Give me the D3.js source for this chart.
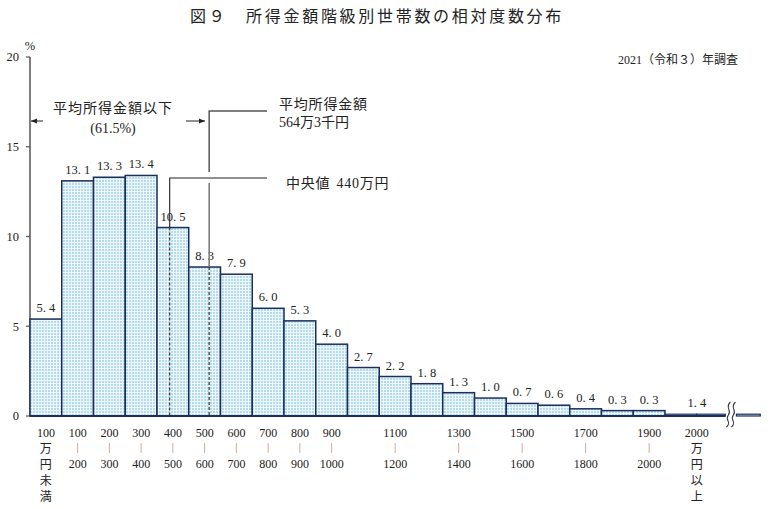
<!DOCTYPE html>
<html><head><meta charset="utf-8">
<script src="https://cdn.jsdelivr.net/npm/d3@7"></script>
<style>
body{margin:0;background:#fff;}
svg{display:block;}
text{font-family:"Liberation Serif","Noto Sans CJK JP",serif;fill:#222;}
</style></head>
<body>
<svg id="c" width="771" height="509"></svg>
<script>
// ---- data ----
const binLower = [0,100,200,300,400,500,600,700,800,900,1000,1100,1200,1300,1400,1500,1600,1700,1800,1900];
const values   = [5.4,13.1,13.3,13.4,10.5,8.3,7.9,6.0,5.3,4.0,2.7,2.2,1.8,1.3,1.0,0.7,0.6,0.4,0.3,0.3];
const labelTop    = ["100","100","200","300","400","500","600","700","800","900","","1100","","1300","","1500","","1700","","1900"];
const labelBottom = ["","200","300","400","500","600","700","800","900","1000","","1200","","1400","","1600","","1800","","2000"];
const overLabel = "2000";
const overUnits = ["万","円","以","上"];
const underUnits = ["万","円","未","満"];
const overValue = 1.4;          // 2000万円以上
const overBins = [[2000,2100],[2100,2190]];
const overTail = [2225,2300];
const overHeight = 0.1;         // drawn height of the flattened 2000+ bars
const yTicks = [0,5,10,15,20];
const meanIncome = 564.3, medianIncome = 440, belowMeanPct = "61.5";

// ---- scales ----
const svg = d3.select("#c");
const x = d3.scaleLinear().domain([0,2000]).range([30,665]);
const y = d3.scaleLinear().domain([0,20]).range([416,57]);
const bw = x(100)-x(0);
const fmt = v => d3.format(".1f")(v).replace(".", ". ");

// pattern
const defs = svg.append("defs");
const pat = defs.append("pattern").attr("id","dots").attr("width",3).attr("height",3).attr("patternUnits","userSpaceOnUse");
pat.append("rect").attr("width",3).attr("height",3).attr("fill","#eef8fc");
pat.append("rect").attr("width",2).attr("height",2).attr("fill","#b3dbec");

// title
svg.append("text").attr("x",190).attr("y",22).attr("font-size",16).attr("letter-spacing",2.7)
  .style("font-family","'Noto Sans CJK JP'").attr("font-weight",400)
  .text("図９　所得金額階級別世帯数の相対度数分布");
svg.append("text").attr("x",738).attr("y",64).attr("font-size",12).attr("text-anchor","end")
  .text("2021（令和３）年調査");

// y axis
svg.append("line").attr("x1",x(0)).attr("x2",x(0)).attr("y1",y(20)).attr("y2",y(0)).attr("stroke","#555").attr("stroke-width",1.5);
const yt = svg.append("g");
yTicks.forEach(t=>{
  yt.append("line").attr("x1",x(0)-4).attr("x2",x(0)).attr("y1",y(t)).attr("y2",y(t)).attr("stroke","#555").attr("stroke-width",1.2);
  yt.append("text").attr("x",19).attr("y",y(t)).attr("dy","0.35em").attr("text-anchor","end").attr("font-size",12.5).text(t);
});
svg.append("text").attr("x",30).attr("y",46).attr("dy","0.35em").attr("text-anchor","middle").attr("font-size",12.5).text("%");

// bars
const bars = svg.append("g");
bars.selectAll("rect.b").data(values).join("rect").attr("class","b")
  .attr("x",(d,i)=>x(binLower[i])).attr("width",bw)
  .attr("y",d=>y(d)).attr("height",d=>y(0)-y(d))
  .attr("fill","url(#dots)").attr("stroke","#1b2f5e").attr("stroke-width",1.5);
bars.selectAll("rect.o").data(overBins).join("rect").attr("class","o")
  .attr("x",d=>x(d[0])).attr("width",d=>x(d[1])-x(d[0]))
  .attr("y",y(overHeight)).attr("height",y(0)-y(overHeight))
  .attr("fill","#d6ecf6").attr("stroke","#1b2f5e").attr("stroke-width",1.2);
bars.append("rect").attr("x",x(overTail[0])).attr("width",x(overTail[1])-x(overTail[0]))
  .attr("y",y(overHeight)).attr("height",y(0)-y(overHeight))
  .attr("fill","#d6ecf6").attr("stroke","#1b2f5e").attr("stroke-width",1.2);
// baseline
svg.append("line").attr("x1",x(0)).attr("x2",x(overBins[1][1])).attr("y1",y(0)).attr("y2",y(0)).attr("stroke","#1b2f5e").attr("stroke-width",2);

// break symbol
const bx = (x(overBins[1][1])+x(overTail[0]))/2;
[-2.5,2.5].forEach(o=>{
  const cx = bx+o;
  svg.append("path").attr("d",`M${cx+2},${402} C${cx-4},${408} ${cx+4},${410} ${cx},${415} C${cx-4},${420} ${cx+4},${422} ${cx-2},${427}`)
    .attr("fill","none").attr("stroke","#333").attr("stroke-width",1.1);
});

// value labels
svg.append("g").selectAll("text").data(values).join("text")
  .attr("x",(d,i)=>x(binLower[i])+bw/2).attr("y",d=>y(d)-7)
  .attr("text-anchor","middle").attr("font-size",12.5).text(d=>fmt(d));
svg.append("text").attr("x",x(overBins[0][1])).attr("y",y(overHeight)-7).attr("text-anchor","middle").attr("font-size",12.5).text(fmt(overValue));

// x labels
const xl = svg.append("g").attr("font-size",12);
binLower.forEach((b,i)=>{
  const cx = x(b)+bw/2;
  if(!labelTop[i]) return;
  xl.append("text").attr("x",cx).attr("y",433).attr("dy","0.35em").attr("text-anchor","middle").text(labelTop[i]);
  if(labelBottom[i]){
    xl.append("line").attr("x1",cx).attr("x2",cx).attr("y1",443).attr("y2",453).attr("stroke","#d2aaa2").attr("stroke-width",1);
    xl.append("text").attr("x",cx).attr("y",464).attr("dy","0.35em").attr("text-anchor","middle").text(labelBottom[i]);
  } else {
    underUnits.forEach((u,k)=>xl.append("text").attr("x",cx).attr("y",449+16*k).attr("dy","0.35em").attr("text-anchor","middle").attr("font-size",12).text(u));
  }
});
const ox = x(overBins[0][1]);
xl.append("text").attr("x",ox).attr("y",433).attr("dy","0.35em").attr("text-anchor","middle").text(overLabel);
overUnits.forEach((u,k)=>xl.append("text").attr("x",ox).attr("y",449+16*k).attr("dy","0.35em").attr("text-anchor","middle").attr("font-size",12).text(u));

// annotations
const mx = x(meanIncome), mdx = x(medianIncome);
const ann = svg.append("g");
const meanIdx = Math.floor(meanIncome/100), medIdx = Math.floor(medianIncome/100);
// mean
ann.append("path").attr("d",`M267,111 H${mx} V172`).attr("fill","none").attr("stroke","#555").attr("stroke-width",1.5);
ann.append("line").attr("x1",mx).attr("x2",mx).attr("y1",183).attr("y2",y(values[meanIdx])).attr("stroke","#777").attr("stroke-width",1.5);
ann.append("line").attr("x1",mx).attr("x2",mx).attr("y1",y(values[meanIdx])).attr("y2",y(0)).attr("stroke","#333").attr("stroke-width",1.2).attr("stroke-dasharray","3,2");
// median
ann.append("path").attr("d",`M267,178 H${mdx} V${y(values[medIdx])}`).attr("fill","none").attr("stroke","#222").attr("stroke-width",1.1);
ann.append("line").attr("x1",mdx).attr("x2",mdx).attr("y1",y(values[medIdx])).attr("y2",y(0)).attr("stroke","#333").attr("stroke-width",1.2).attr("stroke-dasharray","3,2");
// texts
const jt = (t,xx,yy,anchor)=>ann.append("text").attr("x",xx).attr("y",yy).attr("dy","0.35em").attr("text-anchor",anchor||"start").attr("font-size",14).text(t);
jt("平均所得金額",279,104).attr("letter-spacing",0.8);
jt("564万3千円",279,122);
const med = jt("中央値",286,183).attr("letter-spacing",0.8);
med.append("tspan").attr("dx",6).text("440万円");
jt("平均所得金額以下",113,108,"middle").attr("letter-spacing",1);
jt("("+belowMeanPct+"%)",113,128,"middle");
// arrows
defs.append("marker").attr("id","ah").attr("viewBox","0 0 10 10").attr("refX",10).attr("refY",5)
  .attr("markerWidth",6).attr("markerHeight",6).attr("orient","auto-start-reverse")
  .append("path").attr("d","M0,1 L10,5 L0,9 z").attr("fill","#222");
ann.append("line").attr("x1",43).attr("x2",31).attr("y1",121).attr("y2",121).attr("stroke","#222").attr("stroke-width",1).attr("marker-end","url(#ah)");
ann.append("line").attr("x1",186).attr("x2",205).attr("y1",121).attr("y2",121).attr("stroke","#222").attr("stroke-width",1).attr("marker-end","url(#ah)");
</script>
</body></html>
